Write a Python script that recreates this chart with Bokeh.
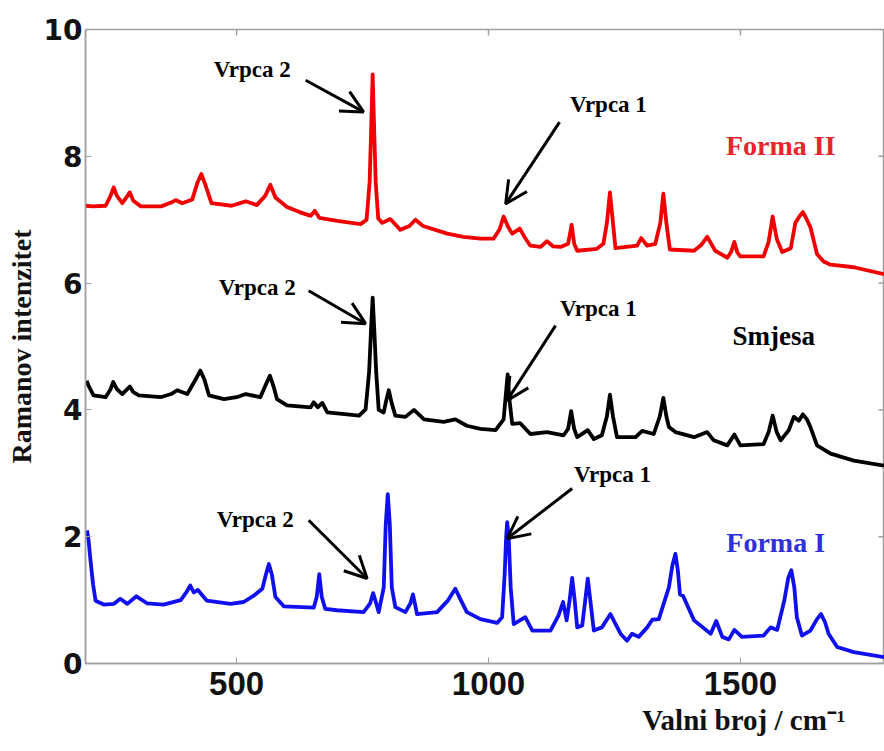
from bokeh.plotting import figure
from bokeh.models import Label, Arrow, OpenHead, FixedTicker, Range1d, Title
from bokeh.embed import file_html
from bokeh.resources import INLINE

# ---- data ----
forma2_pts = [(200,7.22),(215,7.21),(240,7.22),(250,7.38),(256,7.51),(262,7.38),(273,7.26),(282,7.36),(288,7.43),(295,7.30),(310,7.21),(350,7.21),(370,7.27),(379,7.31),(392,7.26),(412,7.32),(422,7.58),(430,7.72),(438,7.55),(450,7.26),(490,7.22),(518,7.29),(540,7.23),(557,7.38),(567,7.55),(577,7.35),(600,7.20),(625,7.12),(647,7.06),(655,7.14),(664,7.03),(700,6.98),(746,6.93),(758,7.00),(764,7.6),(768,8.7),(770,9.29),(772,8.7),(776,7.6),(781,7.02),(789,6.95),(805,7.01),(825,6.84),(843,6.90),(855,7.00),(870,6.90),(918,6.78),(950,6.73),(984,6.70),(1010,6.70),(1022,6.85),(1030,7.05),(1038,6.90),(1047,6.78),(1062,6.86),(1072,6.72),(1083,6.59),(1103,6.57),(1116,6.66),(1128,6.58),(1143,6.57),(1158,6.62),(1165,6.92),(1170,6.62),(1176,6.51),(1215,6.54),(1228,6.62),(1235,6.95),(1241,7.43),(1247,6.95),(1252,6.55),(1295,6.59),(1303,6.71),(1315,6.59),(1331,6.62),(1341,6.95),(1347,7.41),(1353,6.95),(1360,6.53),(1408,6.51),(1422,6.60),(1434,6.73),(1450,6.51),(1474,6.40),(1482,6.50),(1488,6.65),(1494,6.48),(1500,6.42),(1546,6.42),(1556,6.65),(1564,7.05),(1572,6.70),(1583,6.49),(1600,6.55),(1609,6.95),(1617,7.05),(1624,7.12),(1632,7.00),(1639,6.88),(1652,6.46),(1665,6.34),(1679,6.29),(1725,6.25),(1785,6.14)]

smjesa_pts = [(202,4.46),(208,4.35),(216,4.23),(240,4.20),(250,4.33),(255,4.44),(262,4.33),(273,4.25),(282,4.32),(288,4.37),(295,4.28),(306,4.23),(349,4.20),(370,4.25),(382,4.31),(402,4.25),(420,4.50),(428,4.62),(436,4.48),(445,4.23),(475,4.17),(500,4.20),(518,4.25),(547,4.20),(558,4.40),(566,4.54),(574,4.35),(580,4.17),(600,4.07),(647,4.04),(653,4.12),(661,4.04),(670,4.11),(680,3.96),(743,3.91),(756,4.01),(763,4.6),(767,5.3),(770,5.77),(773,5.3),(777,4.6),(782,4.0),(792,3.96),(797,4.15),(802,4.31),(808,4.1),(815,3.91),(835,3.89),(852,4.00),(872,3.85),(911,3.81),(934,3.85),(957,3.75),(984,3.70),(1014,3.68),(1030,3.85),(1035,4.3),(1038,4.56),(1041,4.2),(1047,3.78),(1063,3.79),(1083,3.62),(1116,3.65),(1149,3.60),(1158,3.70),(1164,3.98),(1170,3.70),(1176,3.57),(1197,3.68),(1209,3.54),(1225,3.60),(1235,3.90),(1241,4.24),(1247,3.90),(1255,3.57),(1292,3.57),(1305,3.67),(1328,3.62),(1340,3.90),(1347,4.19),(1353,3.90),(1358,3.73),(1371,3.65),(1408,3.57),(1434,3.65),(1447,3.52),(1474,3.44),(1488,3.61),(1500,3.44),(1546,3.46),(1556,3.65),(1564,3.91),(1572,3.65),(1580,3.52),(1596,3.68),(1606,3.89),(1616,3.83),(1624,3.93),(1632,3.85),(1639,3.73),(1652,3.44),(1679,3.31),(1725,3.20),(1785,3.12)]

forma1_pts = [(203,2.10),(206,1.95),(210,1.62),(215,1.25),(220,0.99),(236,0.93),(256,0.94),(269,1.02),(283,0.94),(301,1.06),(322,0.95),(355,0.93),(389,1.00),(400,1.12),(408,1.23),(415,1.12),(423,1.16),(441,0.99),(488,0.94),(514,0.97),(534,1.07),(551,1.18),(558,1.40),(564,1.57),(570,1.40),(577,1.05),(594,0.90),(653,0.88),(659,1.05),(664,1.41),(669,1.05),(676,0.86),(699,0.84),(752,0.81),(765,0.95),(771,1.11),(777,0.95),(782,0.81),(792,1.2),(796,2.2),(800,2.67),(804,2.2),(808,1.2),(815,0.89),(835,0.81),(845,0.95),(850,1.09),(855,0.90),(858,0.78),(898,0.81),(920,1.00),(934,1.18),(945,1.00),(957,0.81),(984,0.70),(1017,0.64),(1027,0.73),(1032,1.4),(1035,2.0),(1037,2.23),(1040,2.0),(1044,1.2),(1050,0.62),(1073,0.73),(1087,0.52),(1123,0.52),(1139,0.76),(1148,0.97),(1155,0.68),(1161,1.0),(1166,1.35),(1171,1.0),(1176,0.57),(1186,0.60),(1192,1.0),(1197,1.34),(1202,1.0),(1209,0.52),(1225,0.57),(1242,0.78),(1262,0.47),(1275,0.36),(1285,0.47),(1298,0.42),(1315,0.57),(1325,0.69),(1338,0.70),(1358,1.20),(1365,1.55),(1371,1.73),(1376,1.45),(1380,1.09),(1386,1.07),(1408,0.68),(1441,0.47),(1452,0.67),(1464,0.42),(1477,0.38),(1488,0.53),(1503,0.42),(1546,0.44),(1560,0.57),(1573,0.53),(1587,0.99),(1595,1.35),(1601,1.47),(1607,1.2),(1612,0.73),(1622,0.44),(1639,0.52),(1652,0.70),(1660,0.78),(1668,0.65),(1675,0.47),(1692,0.26),(1725,0.18),(1785,0.10)]

forma2_x = [a for a, b in forma2_pts]
forma2_y = [b for a, b in forma2_pts]
smjesa_x = [a for a, b in smjesa_pts]
smjesa_y = [b for a, b in smjesa_pts]
forma1_x = [a for a, b in forma1_pts]
forma1_y = [b for a, b in forma1_pts]

x_ticks = [500, 1000, 1500]
y_ticks = [0, 2, 4, 6, 8, 10]
X_MIN, X_MAX = 200, 1786
Y_MIN, Y_MAX = 0, 10

RED = "#f00000"
BLACK = "#000000"
BLUE = "#1010ee"
GRAY = "#a0a0a0"
SERIF = "Liberation Serif"

p = figure(width=884, height=751,
           x_range=Range1d(X_MIN, X_MAX), y_range=Range1d(Y_MIN, Y_MAX),
           output_backend="svg", toolbar_location=None,
           min_border_left=85, min_border_right=0,
           min_border_top=29, min_border_bottom=88,
           background_fill_color="white", border_fill_color="white")

p.xgrid.visible = False
p.ygrid.visible = False
p.outline_line_color = GRAY
p.outline_line_width = 1.5

p.xaxis.ticker = FixedTicker(ticks=x_ticks)
p.yaxis.ticker = FixedTicker(ticks=y_ticks)
for ax in (p.xaxis, p.yaxis):
    ax.axis_line_color = GRAY
    ax.axis_line_width = 1.5
    ax.major_tick_line_color = GRAY
    ax.major_tick_in = 6
    ax.major_tick_out = 0
    ax.minor_tick_line_color = None
    ax.major_label_text_font_style = "bold"
    ax.major_label_text_color = "#111111"

p.xaxis.major_label_text_font = "Liberation Sans"
p.xaxis.major_label_text_font_size = "33px"
p.xaxis.major_label_standoff = 8

p.yaxis.major_label_text_font = "DejaVu Sans"
p.yaxis.major_label_text_font_size = "28px"
p.yaxis.major_label_standoff = 3
p.yaxis.axis_label = "Ramanov intenzitet"
p.yaxis.axis_label_text_font = SERIF
p.yaxis.axis_label_text_font_style = "bold"
p.yaxis.axis_label_text_font_size = "28px"
p.yaxis.axis_label_standoff = 4
p.yaxis.axis_label_text_color = "#111111"

# x-axis title, placed towards the right as in the reference
p.add_layout(Title(text="Valni broj / cm\u207b\u00b9", align="right", offset=39,
                   text_font=SERIF, text_font_style="bold", text_font_size="29px",
                   text_color="#111111", standoff=8), "below")

# inward tick marks on the top and right edges of the box
tick_dy = (Y_MAX - Y_MIN) * 6 / 634
tick_dx = (X_MAX - X_MIN) * 6 / 799
p.segment(x0=x_ticks, y0=[Y_MAX] * len(x_ticks), x1=x_ticks, y1=[Y_MAX - tick_dy] * len(x_ticks),
          line_color=GRAY, line_width=1.5)
p.segment(x0=[X_MAX] * len(y_ticks), y0=y_ticks, x1=[X_MAX - tick_dx] * len(y_ticks), y1=y_ticks,
          line_color=GRAY, line_width=1.5)

p.line(forma2_x, forma2_y, line_color=RED, line_width=3.8, line_join="round")
p.line(smjesa_x, smjesa_y, line_color=BLACK, line_width=3.8, line_join="round")
p.line(forma1_x, forma1_y, line_color=BLUE, line_width=3.8, line_join="round")

# series names and band annotations
labels = [
    (531, 9.37, "Vrpca 2", BLACK, "23px"),
    (1238, 8.82, "Vrpca 1", BLACK, "23px"),
    (1580, 8.17, "Forma II", "#e8242c", "28px"),
    (541, 5.93, "Vrpca 2", BLACK, "23px"),
    (1218, 5.60, "Vrpca 1", BLACK, "23px"),
    (1566, 5.16, "Smjesa", BLACK, "27px"),
    (537, 2.27, "Vrpca 2", BLACK, "23px"),
    (1246, 2.98, "Vrpca 1", BLACK, "23px"),
    (1570, 1.91, "Forma I", "#3030d8", "28px"),
]
for lx, ly, txt, col, fs in labels:
    p.add_layout(Label(x=lx, y=ly, text=txt, text_font=SERIF, text_font_style="bold",
                       text_font_size=fs, text_color=col,
                       text_align="center", text_baseline="middle"))

arrows = [
    (637, 9.20, 752, 8.70),
    (1141, 8.54, 1034, 7.25),
    (643, 5.88, 756, 5.36),
    (1133, 5.33, 1037, 4.15),
    (643, 2.26, 759, 1.34),
    (1166, 2.76, 1037, 1.97),
]
for xs, ys, xe, ye in arrows:
    p.add_layout(Arrow(x_start=xs, y_start=ys, x_end=xe, y_end=ye,
                       line_color="black", line_width=3,
                       end=OpenHead(size=22, line_width=3, line_color="black")))

open("out.html", "w").write(file_html(p, INLINE))
